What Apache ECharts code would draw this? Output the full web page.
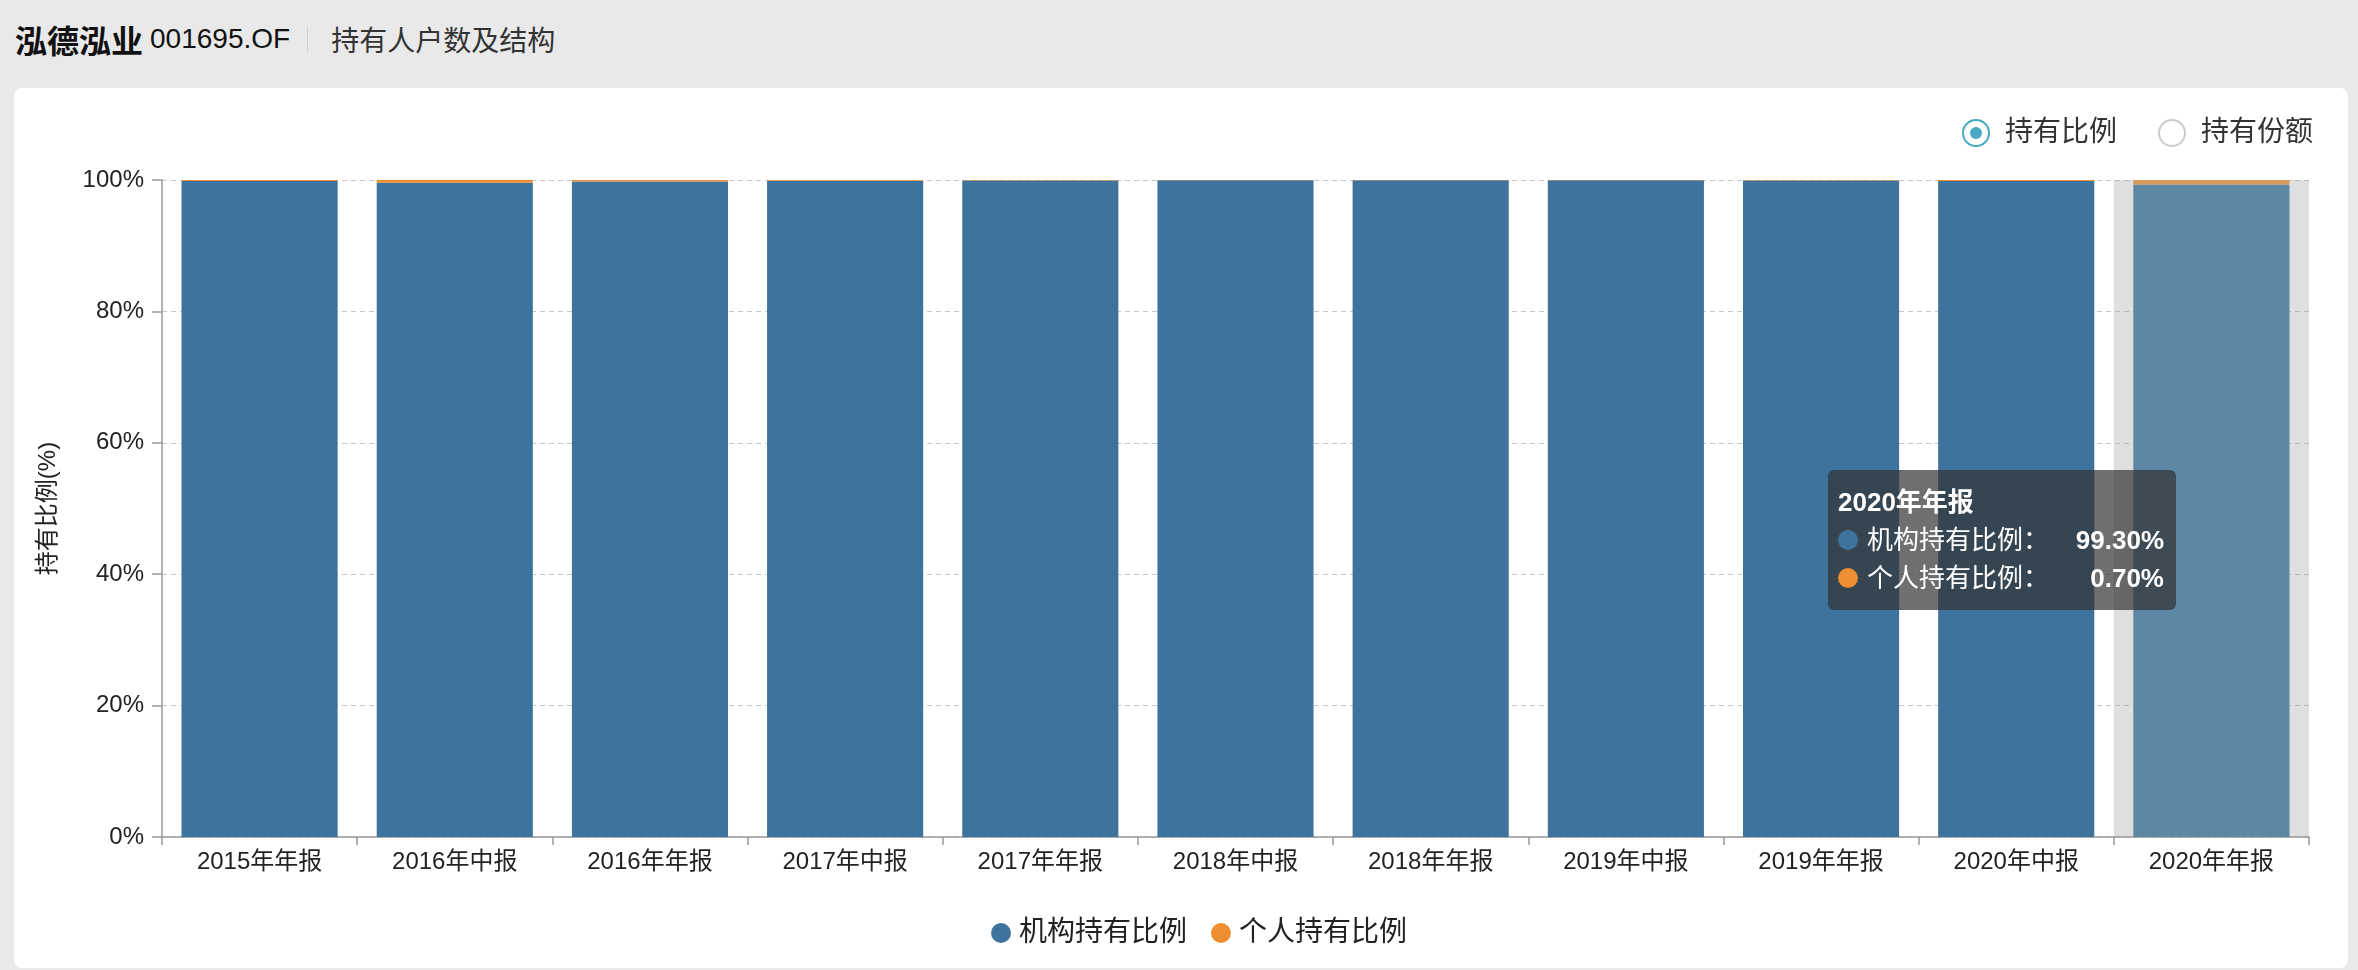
<!DOCTYPE html>
<html>
<head>
<meta charset="utf-8">
<script src="https://cdn.jsdelivr.net/npm/echarts@6/dist/echarts.min.js"></script>
<style>
html,body{margin:0;padding:0;background:#e9e9e9;width:2358px;height:970px;overflow:hidden;font-family:"Liberation Sans","Noto Sans CJK SC",sans-serif;}
#header{position:absolute;left:15px;top:19px;height:40px;display:flex;align-items:center;color:#111;white-space:nowrap;}
#header .name{font-size:32px;font-weight:bold;font-family:"Noto Sans CJK SC",sans-serif;}
#header .code{font-size:28px;margin-left:7px;}
#header .sep{width:1px;height:27px;background:#d2d2d2;margin:0 23px 0 17px;}
#header .title{font-size:28px;color:#333;font-family:"Noto Sans CJK SC",sans-serif;}
#card{position:absolute;left:14px;top:88px;width:2334px;height:880px;background:#fff;border-radius:8px;}
#chart{width:2334px;height:880px;}
</style>
</head>
<body>
<div id="header"><span class="name">泓德泓业</span><span class="code">001695.OF</span><span class="sep"></span><span class="title">持有人户数及结构</span></div>
<div id="card"><div id="chart"></div></div>
<script>
// ---- data ----
const categories = ['2015年年报','2016年中报','2016年年报','2017年中报','2017年年报','2018年中报','2018年年报','2019年中报','2019年年报','2020年中报','2020年年报'];
const institutionValues = [99.85, 99.58, 99.78, 99.88, 99.92, 99.97, 99.96, 99.97, 99.93, 99.86, 99.30];
const individualValues  = [0.15, 0.42, 0.22, 0.12, 0.08, 0.03, 0.04, 0.03, 0.07, 0.14, 0.70];
const seriesNames = ['机构持有比例', '个人持有比例'];
const radioLabels = ['持有比例', '持有份额'];
const yAxisName = '持有比例(%)';
const highlightIndex = 10;

const BLUE = '#3e739d';
const ORANGE = '#ee8e33';
const BLUE_HI = '#4482ad';
const ORANGE_HI = '#f39c45';
const FONT = '"Liberation Sans","Noto Sans CJK SC",sans-serif';

const chart = echarts.init(document.getElementById('chart'));

function tipFormatter(params) {
  let html = '<div style="font-weight:bold;font-size:26px;line-height:38px;">' + params[0].axisValue + '</div>';
  params.forEach(function (p) {
    html += '<div style="display:flex;align-items:center;line-height:38px;font-size:26px;">' +
      '<span style="display:inline-block;width:20px;height:20px;border-radius:10px;background:' + p.color + ';margin-right:9px;"></span>' +
      '<span>' + p.seriesName + '：</span>' +
      '<span style="flex:1;text-align:right;font-weight:bold;margin-left:8px;">' + Number(p.value).toFixed(2) + '%</span>' +
      '</div>';
  });
  return html;
}

const option = {
  animation: false,
  textStyle: { fontFamily: FONT },
  grid: { left: 148, right: 39, top: 92, bottom: 131, containLabel: false },
  legend: {
    data: seriesNames,
    left: 972,
    top: 826,
    icon: 'circle',
    itemWidth: 20,
    itemHeight: 20,
    itemGap: 24,
    textStyle: { fontSize: 28, color: '#222', fontFamily: FONT, padding: [0, 0, 0, 3] }
  },
  tooltip: {
    trigger: 'axis',
    alwaysShowContent: true,
    transitionDuration: 0,
    showDelay: 0,
    axisPointer: { type: 'shadow', shadowStyle: { color: 'rgba(150,150,150,0.3)' } },
    backgroundColor: 'rgba(50,50,50,0.7)',
    borderWidth: 0,
    padding: [13, 12, 13, 10],
    textStyle: { color: '#fff', fontSize: 26, fontFamily: FONT },
    extraCssText: 'border-radius:6px;box-shadow:none;width:326px;',
    position: [1814, 382],
    formatter: tipFormatter
  },
  xAxis: {
    type: 'category',
    data: categories,
    axisLine: { lineStyle: { color: '#999', width: 1.5 } },
    axisTick: { show: true, length: 8, alignWithLabel: false, lineStyle: { color: '#999', width: 1.5 } },
    axisLabel: { fontSize: 24, color: '#222', margin: 13, fontFamily: FONT }
  },
  yAxis: {
    type: 'value',
    min: 0,
    max: 100,
    interval: 20,
    name: yAxisName,
    nameLocation: 'middle',
    nameGap: 102,
    nameRotate: 90,
    nameTextStyle: { fontSize: 24, color: '#222', fontFamily: FONT },
    axisLine: { show: true, lineStyle: { color: '#999', width: 1.5 } },
    axisTick: { show: true, length: 10, lineStyle: { color: '#999', width: 1.5 } },
    axisLabel: { formatter: '{value}%', fontSize: 24, color: '#222', margin: 18, fontFamily: FONT },
    splitLine: { show: true, lineStyle: { color: '#c8c8c8', type: [5, 4], width: 1.2 } }
  },
  series: [
    {
      name: seriesNames[0],
      type: 'bar',
      stack: 'total',
      barCategoryGap: '20%',
      data: institutionValues,
      itemStyle: { color: BLUE },
      emphasis: { focus: 'none', itemStyle: { color: BLUE_HI } }
    },
    {
      name: seriesNames[1],
      type: 'bar',
      stack: 'total',
      barCategoryGap: '20%',
      data: individualValues,
      itemStyle: { color: ORANGE },
      emphasis: { focus: 'none', itemStyle: { color: ORANGE_HI } }
    }
  ],
  graphic: [
    { type: 'circle', shape: { cx: 1962, cy: 45, r: 13 }, style: { fill: '#fff', stroke: '#4aa9c2', lineWidth: 2 } },
    { type: 'circle', shape: { cx: 1962, cy: 45, r: 6 }, style: { fill: '#4aa9c2' } },
    { type: 'text', x: 1991, y: 45, style: { text: radioLabels[0], fontSize: 28, fill: '#333', verticalAlign: 'middle', fontFamily: FONT } },
    { type: 'circle', shape: { cx: 2158, cy: 45, r: 13 }, style: { fill: '#fff', stroke: '#cccccc', lineWidth: 2 } },
    { type: 'text', x: 2187, y: 45, style: { text: radioLabels[1], fontSize: 28, fill: '#333', verticalAlign: 'middle', fontFamily: FONT } }
  ]
};

chart.setOption(option);
chart.dispatchAction({ type: 'showTip', seriesIndex: 0, dataIndex: highlightIndex });
chart.dispatchAction({ type: 'highlight', seriesIndex: [0, 1], dataIndex: highlightIndex });
</script>
</body>
</html>
